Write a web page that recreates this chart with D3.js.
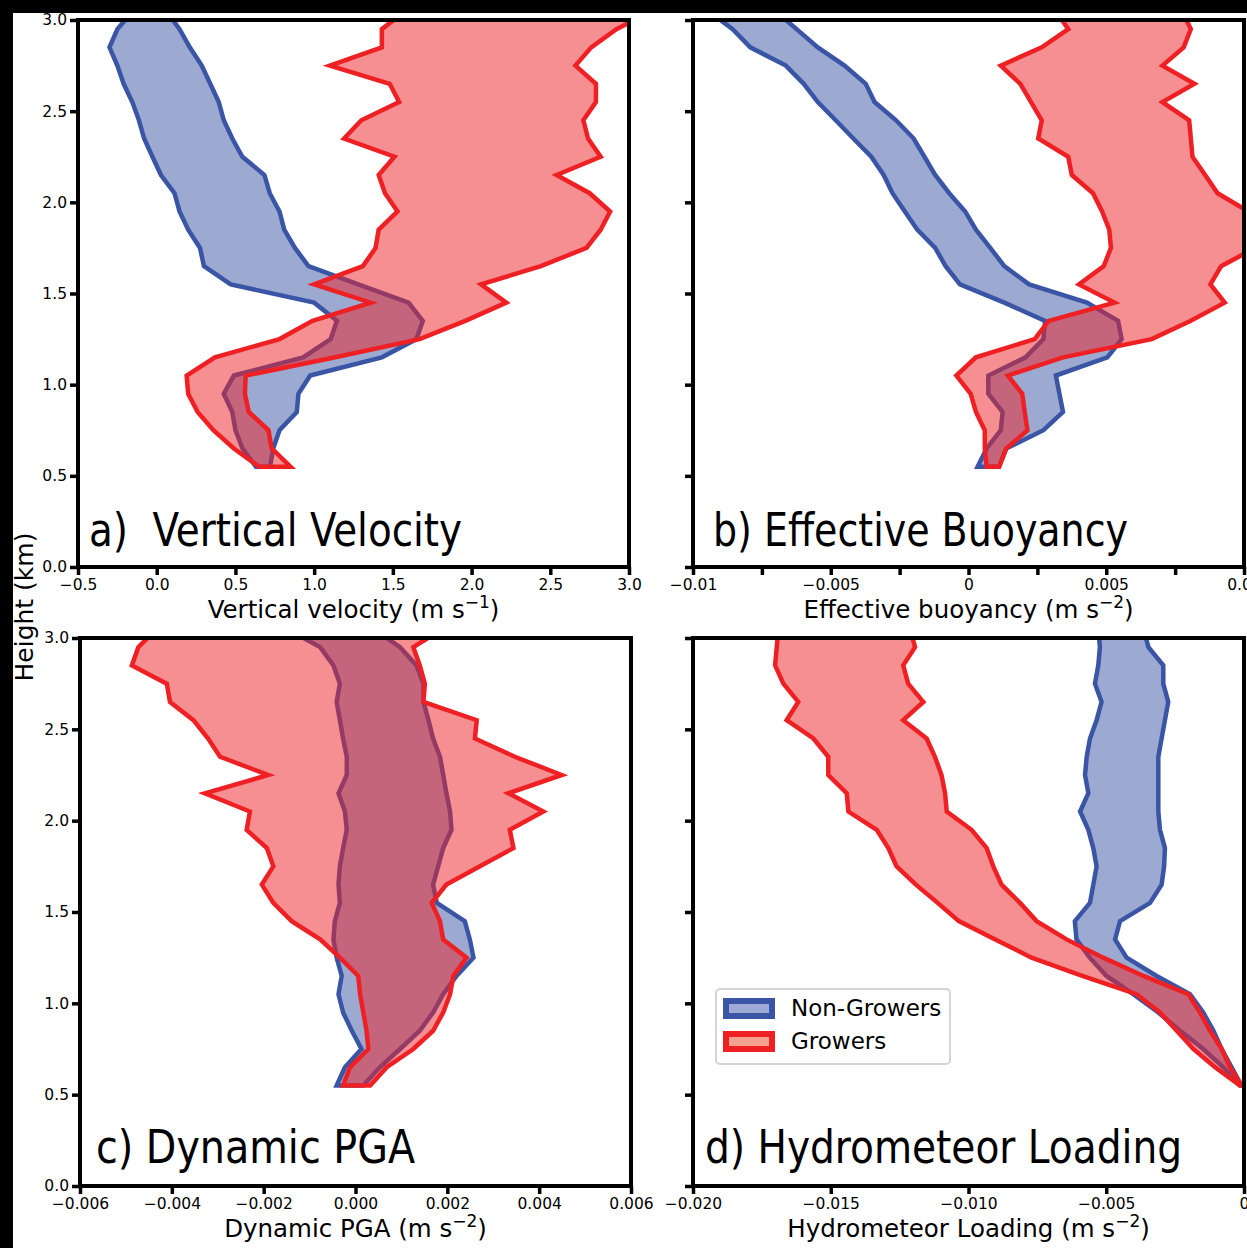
<!DOCTYPE html>
<html>
<head>
<meta charset="utf-8">
<script src="https://cdn.jsdelivr.net/npm/d3@7"></script>
<style>
  html, body { margin: 0; padding: 0; background: #fff; }
  svg { display: block; }
</style>
</head>
<body>
<svg id="fig" width="1247" height="1248"></svg>
<script>
// Height levels (km) of the composite profiles
const heights = [0.55, 0.65, 0.75, 0.85, 0.95, 1.05, 1.15, 1.25, 1.35, 1.45, 1.55, 1.65, 1.75,
                 1.85, 1.95, 2.05, 2.15, 2.25, 2.35, 2.45, 2.55, 2.65, 2.75, 2.85, 2.95, 3.05];

// a) Vertical velocity (m s-1): lower / upper bounds of each group
const wNonGrowersLow  = [0.63, 0.545, 0.50, 0.48, 0.426, 0.49, 0.93, 1.105, 1.145, 1.00, 0.47, 0.30, 0.275,
                         0.20, 0.145, 0.113, 0.027, -0.027, -0.08, -0.113, -0.155, -0.21, -0.25, -0.30, -0.25, -0.15];
const wNonGrowersHigh = [0.72, 0.74, 0.78, 0.89, 0.90, 0.975, 1.43, 1.65, 1.69, 1.60, 1.28, 0.964, 0.878,
                         0.81, 0.78, 0.718, 0.684, 0.544, 0.48, 0.426, 0.394, 0.34, 0.286, 0.21, 0.145, 0.06];
const wGrowersLow     = [0.65, 0.49, 0.36, 0.26, 0.20, 0.19, 0.37, 0.78, 0.99, 1.36, 1.00, 1.31, 1.39,
                         1.41, 1.53, 1.45, 1.41, 1.51, 1.19, 1.30, 1.54, 1.48, 1.10, 1.43, 1.43, 1.58];
const wGrowersHigh    = [0.85, 0.73, 0.71, 0.585, 0.56, 0.565, 1.135, 1.67, 1.96, 2.22, 2.06, 2.44, 2.73,
                         2.82, 2.88, 2.75, 2.54, 2.82, 2.74, 2.71, 2.79, 2.79, 2.66, 2.76, 2.92, 3.15];

// b) Effective buoyancy (m s-2)
const bNonGrowersLow  = [0.00033, 0.00066, 0.00117, 0.00124, 0.00072, 0.00072, 0.00207, 0.00272, 0.00278, 0.00130, -0.00031, -0.00083, -0.00121,
                         -0.00186, -0.00231, -0.00276, -0.00308, -0.00353, -0.00418, -0.00482, -0.00547, -0.00598, -0.00663, -0.00792, -0.00856, -0.00946];
const bNonGrowersHigh = [0.00111, 0.00137, 0.00272, 0.00343, 0.00330, 0.00317, 0.00504, 0.00556, 0.00543, 0.00430, 0.00220, 0.00130, 0.00079,
                         0.00027, -0.00012, -0.00070, -0.00121, -0.00160, -0.00199, -0.00263, -0.00341, -0.00373, -0.00450, -0.00547, -0.00624, -0.00702];
const bGrowersLow     = [0.00066, 0.00059, 0.00059, 0.00027, 0.00008, -0.00044, 0.00027, 0.00240, 0.00291, 0.00530, 0.00401, 0.00491, 0.00517,
                         0.00511, 0.00485, 0.00452, 0.00375, 0.00362, 0.00253, 0.00266, 0.00227, 0.00188, 0.00117, 0.00266, 0.00362, 0.00317];
const bGrowersHigh    = [0.00111, 0.00137, 0.00214, 0.00204, 0.00195, 0.00143, 0.00343, 0.00665, 0.00807, 0.00930, 0.00878, 0.00917, 0.01040,
                         0.01080, 0.01015, 0.00904, 0.00859, 0.00813, 0.00807, 0.00801, 0.00704, 0.00820, 0.00704, 0.00781, 0.00807, 0.00775];

// c) Dynamic pressure-gradient acceleration (m s-2)
const pNonGrowersLow  = [-0.00041, -0.00023, 0.00013, -0.00008, -0.00027, -0.00037, -0.00030, -0.00041, -0.00048, -0.00045, -0.00034, -0.00037, -0.00034,
                         -0.00027, -0.00019, -0.00023, -0.00037, -0.00019, -0.00019, -0.00027, -0.00034, -0.00041, -0.00034, -0.00048, -0.00077, -0.00150];
const pNonGrowersHigh = [0.00017, 0.00053, 0.00097, 0.00140, 0.00169, 0.00191, 0.00220, 0.00257, 0.00249, 0.00238, 0.00177, 0.00169, 0.00180,
                         0.00191, 0.00209, 0.00206, 0.00198, 0.00191, 0.00184, 0.00169, 0.00159, 0.00148, 0.00148, 0.00133, 0.00097, 0.00039];
const pGrowersLow     = [-0.00027, -0.00012, 0.00028, 0.00024, 0.00017, 0.00010, 0.00006, -0.00034, -0.00077, -0.00139, -0.00179, -0.00204, -0.00179,
                         -0.00193, -0.00237, -0.00230, -0.00328, -0.00190, -0.00295, -0.00321, -0.00353, -0.00404, -0.00411, -0.00487, -0.00473, -0.00433];
const pGrowersHigh    = [0.00032, 0.00068, 0.00126, 0.00169, 0.00191, 0.00206, 0.00213, 0.00242, 0.00191, 0.00184, 0.00166, 0.00198, 0.00271,
                         0.00344, 0.00336, 0.00409, 0.00333, 0.00449, 0.00347, 0.00260, 0.00264, 0.00148, 0.00151, 0.00140, 0.00126, 0.00190];

// d) Hydrometeor loading (m s-2)
const hNonGrowersLow  = [-0.00015, -0.00075, -0.00148, -0.00232, -0.00311, -0.00402, -0.00499, -0.00560, -0.00608, -0.00614, -0.00559, -0.00547, -0.00535,
                         -0.00547, -0.00565, -0.00595, -0.00565, -0.00577, -0.00571, -0.00559, -0.00535, -0.00517, -0.00541, -0.00529, -0.00523, -0.00529];
const hNonGrowersHigh = [-0.00009, -0.00045, -0.00081, -0.00111, -0.00148, -0.00196, -0.00317, -0.00426, -0.00468, -0.00450, -0.00341, -0.00299, -0.00290,
                         -0.00287, -0.00305, -0.00311, -0.00311, -0.00311, -0.00311, -0.00299, -0.00287, -0.00275, -0.00293, -0.00293, -0.00347, -0.00365];
const hGrowersLow     = [-0.00015, -0.00105, -0.00184, -0.00244, -0.00305, -0.00390, -0.00587, -0.00771, -0.00903, -0.01035, -0.01112, -0.01191, -0.01261,
                         -0.01291, -0.01333, -0.01436, -0.01442, -0.01509, -0.01509, -0.01563, -0.01660, -0.01618, -0.01672, -0.01702, -0.01696, -0.01690];
const hGrowersHigh    = [-0.00009, -0.00051, -0.00081, -0.00123, -0.00160, -0.00202, -0.00365, -0.00511, -0.00644, -0.00753, -0.00813, -0.00880, -0.00910,
                         -0.00934, -0.00989, -0.01079, -0.01085, -0.01098, -0.01122, -0.01152, -0.01237, -0.01164, -0.01219, -0.01237, -0.01194, -0.01212];

// Tick values and their labels
const heightTicks  = [0, 0.5, 1.0, 1.5, 2.0, 2.5, 3.0];
const heightLabels = ["0.0", "0.5", "1.0", "1.5", "2.0", "2.5", "3.0"];
const wTicks  = [-0.5, 0, 0.5, 1.0, 1.5, 2.0, 2.5, 3.0];
const wLabels = ["\u22120.5", "0.0", "0.5", "1.0", "1.5", "2.0", "2.5", "3.0"];
const bTicks  = [-0.01, -0.0075, -0.005, -0.0025, 0, 0.0025, 0.005, 0.0075, 0.01];
const bLabels = ["\u22120.01", "", "\u22120.005", "", "0", "", "0.005", "", "0.01"];
const pTicks  = [-0.006, -0.004, -0.002, 0, 0.002, 0.004, 0.006];
const pLabels = ["\u22120.006", "\u22120.004", "\u22120.002", "0.000", "0.002", "0.004", "0.006"];
const hTicks  = [-0.02, -0.015, -0.01, -0.005, 0];
const hLabels = ["\u22120.020", "\u22120.015", "\u22120.010", "\u22120.005", "0"];

const groupNames = ["Non-Growers", "Growers"];

// ---------------------------------------------------------------------------
const BLUE = "#3a55a5";
const RED  = "#ee2024";
const TICK_FONT = "'DejaVu Sans', sans-serif";
const TITLE_FONT = "'Liberation Sans Narrow', 'DejaVu Sans Condensed', 'Liberation Sans', sans-serif";

const svg = d3.select("#fig");

// frame strips along the top and left edge
svg.append("rect").attr("x", 0).attr("y", 0).attr("width", 1247).attr("height", 13).attr("fill", "#000");
svg.append("rect").attr("x", 0).attr("y", 0).attr("width", 13).attr("height", 1248).attr("fill", "#000");

const panels = [
  { id: "a", box: [78, 20, 629, 567], domain: [-0.5, 3.0],
    ng: [wNonGrowersLow, wNonGrowersHigh], gr: [wGrowersLow, wGrowersHigh],
    xt: wTicks, xl: wLabels, yLabels: true,
    title: "a)  Vertical Velocity", titleX: 89, titleW: 373,
    xLabel: ["Vertical velocity (m s", "\u22121", ")"] },
  { id: "b", box: [693, 20, 1244, 567], domain: [-0.01, 0.01],
    ng: [bNonGrowersLow, bNonGrowersHigh], gr: [bGrowersLow, bGrowersHigh],
    xt: bTicks, xl: bLabels, yLabels: false,
    title: "b) Effective Buoyancy", titleX: 713, titleW: 415,
    xLabel: ["Effective buoyancy (m s", "\u22122", ")"] },
  { id: "c", box: [80, 638, 631, 1186], domain: [-0.006, 0.006],
    ng: [pNonGrowersLow, pNonGrowersHigh], gr: [pGrowersLow, pGrowersHigh],
    xt: pTicks, xl: pLabels, yLabels: true,
    title: "c) Dynamic PGA", titleX: 96, titleW: 319,
    xLabel: ["Dynamic PGA (m s", "\u22122", ")"] },
  { id: "d", box: [693, 638, 1244, 1186], domain: [-0.02, 0],
    ng: [hNonGrowersLow, hNonGrowersHigh], gr: [hGrowersLow, hGrowersHigh],
    xt: hTicks, xl: hLabels, yLabels: false,
    title: "d) Hydrometeor Loading", titleX: 705, titleW: 477,
    xLabel: ["Hydrometeor Loading (m s", "\u22122", ")"] }
];

const defs = svg.append("defs");

function bandPath(x, y, lo, hi) {
  const pts = heights.map((h, i) => [x(lo[i]), y(h)]);
  for (let i = heights.length - 1; i >= 0; i--) pts.push([x(hi[i]), y(heights[i])]);
  return d3.line()(pts) + "Z";
}

panels.forEach(p => {
  const [x0, y0, x1, y1] = p.box;
  const x = d3.scaleLinear().domain(p.domain).range([x0, x1]);
  const y = d3.scaleLinear().domain([0, 3]).range([y1, y0]);
  const g = svg.append("g").attr("class", "panel-" + p.id);

  defs.append("clipPath").attr("id", "clip-" + p.id)
    .append("rect").attr("x", x0).attr("y", y0).attr("width", x1 - x0).attr("height", y1 - y0);

  const plot = g.append("g").attr("clip-path", `url(#clip-${p.id})`);
  [[p.ng, BLUE], [p.gr, RED]].forEach(([band, col]) => {
    plot.append("path")
      .attr("d", bandPath(x, y, band[0], band[1]))
      .attr("fill", col).attr("fill-opacity", 0.5)
      .attr("stroke", col).attr("stroke-width", 4.5)
      .attr("stroke-linejoin", "miter").attr("stroke-miterlimit", 10);
  });

  // panel title
  g.append("text")
    .attr("x", p.titleX).attr("y", p.id === "a" || p.id === "b" ? 546 : 1163)
    .attr("font-family", TITLE_FONT).attr("font-size", 47)
    .attr("textLength", p.titleW).attr("lengthAdjust", "spacingAndGlyphs")
    .style("white-space", "pre")
    .attr("fill", "#000")
    .text(p.title);

  // axes
  const xAxis = d3.axisBottom(x).tickValues(p.xt).tickFormat((d, i) => p.xl[i])
    .tickSize(8).tickPadding(4);
  const gx = g.append("g").attr("transform", `translate(0,${y1})`).call(xAxis);
  const yAxis = d3.axisLeft(y).tickValues(heightTicks)
    .tickFormat((d, i) => p.yLabels ? heightLabels[i] : "")
    .tickSize(8).tickPadding(3);
  const gy = g.append("g").attr("transform", `translate(${x0},0)`).call(yAxis);
  [gx, gy].forEach(ax => {
    ax.select(".domain").remove();
    ax.selectAll(".tick line").attr("stroke", "#000").attr("stroke-width", 3.5);
    ax.selectAll(".tick text").attr("fill", "#000")
      .attr("font-family", TICK_FONT).attr("font-size", 15.5);
  });

  // spines
  g.append("rect").attr("x", x0).attr("y", y0).attr("width", x1 - x0).attr("height", y1 - y0)
    .attr("fill", "none").attr("stroke", "#000").attr("stroke-width", 4);

  // x-axis label with superscript unit
  const lab = g.append("text")
    .attr("x", (x0 + x1) / 2).attr("y", y1 + 51)
    .attr("text-anchor", "middle")
    .attr("font-family", TICK_FONT).attr("font-size", 24.5).attr("fill", "#000");
  lab.append("tspan").text(p.xLabel[0]);
  lab.append("tspan").attr("font-size", 17).attr("dy", -10).text(p.xLabel[1]);
  lab.append("tspan").attr("dy", 10).text(p.xLabel[2]);
});

// shared y-axis label
svg.append("text")
  .attr("transform", "translate(33,607) rotate(-90)")
  .attr("text-anchor", "middle")
  .attr("font-family", TICK_FONT).attr("font-size", 25).attr("fill", "#000")
  .text("Height (km)");

// legend
const leg = svg.append("g").attr("class", "legend");
leg.append("rect").attr("x", 716).attr("y", 989).attr("width", 234).attr("height", 75)
  .attr("rx", 4).attr("fill", "#fff").attr("fill-opacity", 0.8)
  .attr("stroke", "#d4d4d4").attr("stroke-width", 2);
const legFill = ["#9ea9d6", "#f6a290"];
[BLUE, RED].forEach((col, i) => {
  const yy = 1001 + i * 33;
  leg.append("rect").attr("x", 726).attr("y", yy).attr("width", 46).attr("height", 15)
    .attr("fill", legFill[i]).attr("stroke", col).attr("stroke-width", 6);
  leg.append("text").attr("x", 791).attr("y", yy + 15)
    .attr("font-family", TICK_FONT).attr("font-size", 23).attr("fill", "#000")
    .text(groupNames[i]);
});
</script>
</body>
</html>
